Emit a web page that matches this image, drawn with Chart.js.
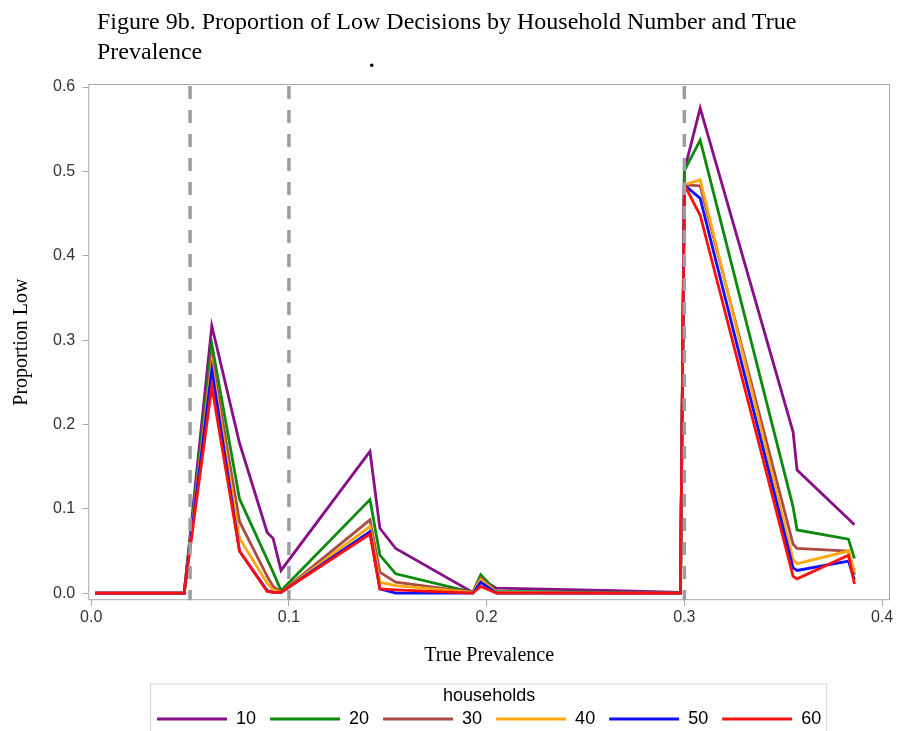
<!DOCTYPE html>
<html>
<head>
<meta charset="utf-8">
<script src="https://cdn.jsdelivr.net/npm/chart.js@4.4.0/dist/chart.umd.min.js"></script>
<style>
  html, body { margin: 0; padding: 0; background: #fff; overflow: hidden; }
  #wrap { position: relative; width: 898px; height: 738px; }
  canvas { position: absolute; left: 0; top: 0; }
  #heading { position: absolute; left: 97px; top: 6px; font-family: "Liberation Serif", "Times New Roman", serif; font-size: 24px; line-height: 30px; color: #000; }
  #dot { position: absolute; left: 369px; top: 47px; font-family: "Liberation Serif", serif; font-size: 22px; font-weight: bold; color: #000; }
</style>
</head>
<body>
<div id="wrap">
  <canvas id="chart" width="898" height="738"></canvas>
  <div id="heading">Figure 9b. Proportion of Low Decisions by Household Number and True<br>Prevalence</div>
  <div id="dot">.</div>
</div>
<script>
// true prevalence values shared by every series
const prevalence = [0.002, 0.047, 0.061, 0.075, 0.089, 0.092, 0.096, 0.141, 0.146, 0.154, 0.193, 0.197, 0.205, 0.265, 0.298, 0.300, 0.308, 0.355, 0.357, 0.383, 0.386];

const households = ['10', '20', '30', '40', '50', '60'];
const colors = ['#870f87', '#0c8a0c', '#aa4a45', '#ffa80d', '#1010ff', '#ff1010'];

// proportion of low decisions per household count
const low10 = [0, 0, 0.317, 0.178, 0.072, 0.065, 0.027, 0.168, 0.077, 0.053, 0.001, 0.017, 0.006, 0.003, 0.001, 0.501, 0.575, 0.191, 0.146, 0.088, 0.081];
const low20 = [0, 0, 0.295, 0.112, 0.040, 0.025, 0.003, 0.111, 0.045, 0.023, 0.001, 0.022, 0.002, 0.001, 0, 0.501, 0.537, 0.102, 0.075, 0.064, 0.041];
const low30 = [0, 0, 0.280, 0.085, 0.020, 0.008, 0.001, 0.087, 0.025, 0.013, 0.001, 0.018, 0.001, 0, 0, 0.484, 0.483, 0.058, 0.053, 0.050, 0.022];
const low40 = [0, 0, 0.272, 0.065, 0.012, 0.004, 0.001, 0.079, 0.013, 0.009, 0.001, 0.016, 0.001, 0, 0, 0.484, 0.490, 0.040, 0.035, 0.050, 0.025];
const low50 = [0, 0, 0.265, 0.050, 0.003, 0.001, 0.001, 0.073, 0.005, 0, 0, 0.013, 0, 0, 0, 0.484, 0.468, 0.030, 0.027, 0.038, 0.016];
const low60 = [0, 0, 0.245, 0.050, 0.002, 0.001, 0.001, 0.070, 0.005, 0.004, 0, 0.008, 0, 0, 0, 0.484, 0.448, 0.020, 0.017, 0.045, 0.011];
const series = [low10, low20, low30, low40, low50, low60];

// cut-off prevalences marked with dashed lines
const cutoffs = [0.05, 0.1, 0.3];

const xTicks = [0, 0.1, 0.2, 0.3, 0.4];
const yTicks = [0, 0.1, 0.2, 0.3, 0.4, 0.5, 0.6];

const tickFont = { family: '"Liberation Sans", Arial, sans-serif', size: 16 };
const legendFont = { family: '"Liberation Sans", Arial, sans-serif', size: 18 };
const serifFont = { family: '"Liberation Serif", "Times New Roman", serif', size: 20 };
const frameColor = '#a8a8a8';

const framePlugin = {
    id: 'frame',
    beforeDatasetsDraw(chart) {
        const { ctx, chartArea: a } = chart;
        ctx.save();
        ctx.strokeStyle = frameColor;
        ctx.lineWidth = 1;
        ctx.strokeRect(a.left + 0.5, a.top + 0.5, a.right - a.left - 1, a.bottom - a.top - 1);
        ctx.restore();
    }
};

const cutoffPlugin = {
    id: 'cutoffs',
    afterDatasetsDraw(chart) {
        const { ctx, chartArea: a, scales: { x } } = chart;
        ctx.save();
        ctx.strokeStyle = '#9a9da2';
        ctx.lineWidth = 3.5;
        ctx.setLineDash([13, 11]);
        cutoffs.forEach(v => {
            const px = x.getPixelForValue(v);
            ctx.beginPath();
            ctx.moveTo(px, a.top + 2);
            ctx.lineTo(px, a.bottom);
            ctx.stroke();
        });
        ctx.restore();
    }
};

const legendBoxPlugin = {
    id: 'legendBox',
    afterDraw(chart) {
        const lg = chart.legend;
        if (!lg || !lg.legendHitBoxes.length) return;
        const boxes = lg.legendHitBoxes;
        const left = Math.min(...boxes.map(b => b.left)) - 7;
        const right = Math.max(...boxes.map(b => b.left + b.width)) + 5;
        const { ctx } = chart;
        ctx.save();
        ctx.strokeStyle = '#d4d4d4';
        ctx.lineWidth = 1;
        ctx.strokeRect(left + 0.5, lg.top + 0.5, right - left, lg.height + 20);
        ctx.restore();
    }
};

const chart = new Chart(document.getElementById('chart').getContext('2d'), {
    type: 'line',
    data: {
        datasets: households.map((h, i) => ({
            label: h,
            data: prevalence.map((p, j) => ({ x: p, y: series[i][j] })),
            borderColor: colors[i],
            backgroundColor: colors[i],
            borderWidth: 2.8,
            pointRadius: 0,
            tension: 0,
            order: households.length - 1 - i
        }))
    },
    options: {
        responsive: false,
        animation: false,
        layout: { padding: { left: 10, right: 8, top: 84, bottom: 0 } },
        scales: {
            x: {
                type: 'linear',
                min: -0.0015,
                max: 0.404,
                afterBuildTicks: s => { s.ticks = xTicks.map(v => ({ value: v })); },
                ticks: { callback: v => v.toFixed(1), font: tickFont, color: '#333', padding: 2, maxRotation: 0 },
                grid: { drawOnChartArea: false, drawTicks: true, tickLength: 6, color: frameColor },
                border: { display: false },
                title: { display: true, text: 'True Prevalence', font: serifFont, color: '#000', padding: { top: 14, bottom: 16 } }
            },
            y: {
                type: 'linear',
                min: -0.0083,
                max: 0.6036,
                afterBuildTicks: s => { s.ticks = yTicks.map(v => ({ value: v })); },
                ticks: { callback: v => v.toFixed(1), font: tickFont, color: '#333', padding: 7 },
                grid: { drawOnChartArea: false, drawTicks: true, tickLength: 6, color: frameColor },
                border: { display: false },
                title: { display: true, text: 'Proportion Low', font: serifFont, color: '#000', padding: { top: 0, bottom: 12 } }
            }
        },
        plugins: {
            tooltip: { enabled: false },
            legend: {
                position: 'bottom',
                fullSize: false,
                title: { display: true, text: 'households', font: legendFont, color: '#000', padding: { top: 4, bottom: -13 } },
                labels: {
                    boxWidth: 70,
                    boxHeight: 3,
                    padding: 14,
                    font: legendFont,
                    color: '#000',
                    sort: (a, b) => a.datasetIndex - b.datasetIndex,
                    generateLabels: c => c.data.datasets.map((d, i) => ({
                        text: d.label,
                        fillStyle: d.borderColor,
                        strokeStyle: d.borderColor,
                        lineWidth: 0,
                        fontColor: '#000',
                        datasetIndex: i,
                        hidden: false
                    }))
                }
            }
        }
    },
    plugins: [framePlugin, cutoffPlugin, legendBoxPlugin]
});
</script>
</body>
</html>
